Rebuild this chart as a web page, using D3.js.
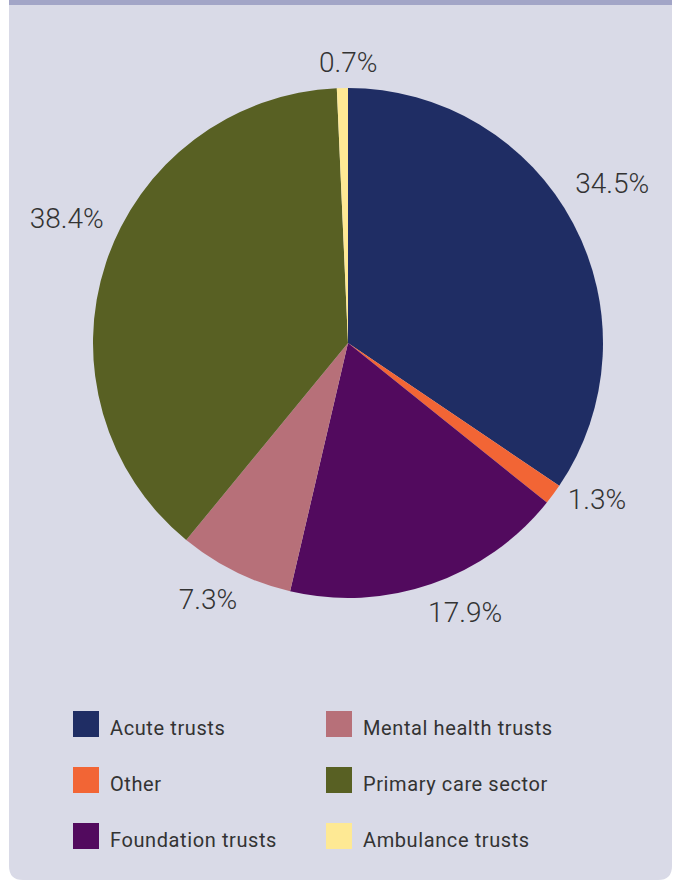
<!DOCTYPE html>
<html>
<head>
<meta charset="utf-8">
<script src="https://cdn.jsdelivr.net/npm/d3@7/dist/d3.min.js"></script>
<style>
  html, body { margin: 0; padding: 0; background: #ffffff; }
  svg { display: block; }
</style>
</head>
<body>
<script>
// Share of spending by sector (percent)
const categories = ["Acute trusts", "Other", "Foundation trusts", "Mental health trusts", "Primary care sector", "Ambulance trusts"];
const values = [34.5, 1.3, 17.9, 7.3, 38.4, 0.7];
const valueLabels = ["34.5%", "1.3%", "17.9%", "7.3%", "38.4%", "0.7%"];
const colors = ["#1f2d64", "#f26535", "#520a5e", "#b77079", "#586023", "#fee994"];

// Label placement: angle nudge (degrees) from slice middle, and distance from centre
const labelNudge = [-3.3, -4.3, -4.5, 2.4, 5.6, 1.3];
const labelRadius = [309, 294, 293, 292, 308, 281];

const W = 677, H = 881;
const cx = 348, cy = 343, R = 255;

const svg = d3.select("body").append("svg")
  .attr("width", W).attr("height", H);

// Panel with rounded bottom corners and a top rule
const px0 = 9, px1 = 672, py1 = 880, rr = 14;
svg.append("path")
  .attr("d", `M${px0},0 H${px1} V${py1 - rr} Q${px1},${py1} ${px1 - rr},${py1} H${px0 + rr} Q${px0},${py1} ${px0},${py1 - rr} Z`)
  .attr("fill", "#d9dae7");
svg.append("rect")
  .attr("x", px0).attr("y", 0).attr("width", px1 - px0).attr("height", 5)
  .attr("fill", "#a2a5c7");

const data = categories.map((c, i) => ({ name: c, value: values[i], label: valueLabels[i], color: colors[i], i }));

const pie = d3.pie().value(d => d.value).sort(null);
const arcs = pie(data);
const arc = d3.arc().innerRadius(0).outerRadius(R);

const g = svg.append("g").attr("transform", `translate(${cx},${cy})`);

g.selectAll("path.slice")
  .data(arcs)
  .join("path")
  .attr("class", "slice")
  .attr("d", arc)
  .attr("fill", d => d.data.color);

g.selectAll("text.pct")
  .data(arcs)
  .join("text")
  .attr("class", "pct")
  .attr("transform", d => {
    const a = (d.startAngle + d.endAngle) / 2 + labelNudge[d.data.i] * Math.PI / 180;
    const r = labelRadius[d.data.i];
    return `translate(${r * Math.sin(a)},${-r * Math.cos(a)})`;
  })
  .attr("text-anchor", "middle")
  .attr("dy", "0.36em")
  .attr("font-family", "Roboto, 'DejaVu Sans', sans-serif")
  .attr("font-weight", 300)
  .attr("font-size", 28)
  .attr("fill", "#333333")
  .text(d => d.data.label);

// Legend: three rows, two columns
const legendX = d3.scalePoint().domain([0, 1]).range([73, 326]);
const legendY = d3.scalePoint().domain([0, 1, 2]).range([711, 823]);

const leg = svg.append("g").selectAll("g")
  .data(data)
  .join("g")
  .attr("transform", d => `translate(${legendX(Math.floor(d.i / 3))},${legendY(d.i % 3)})`);

leg.append("rect")
  .attr("width", 26).attr("height", 26)
  .attr("fill", d => d.color);

leg.append("text")
  .attr("x", 37)
  .attr("y", 24)
  .attr("font-family", "Roboto, 'DejaVu Sans', sans-serif")
  .attr("font-size", 20)
  .attr("letter-spacing", 0.6)
  .attr("fill", "#333333")
  .text(d => d.name);
</script>
</body>
</html>
